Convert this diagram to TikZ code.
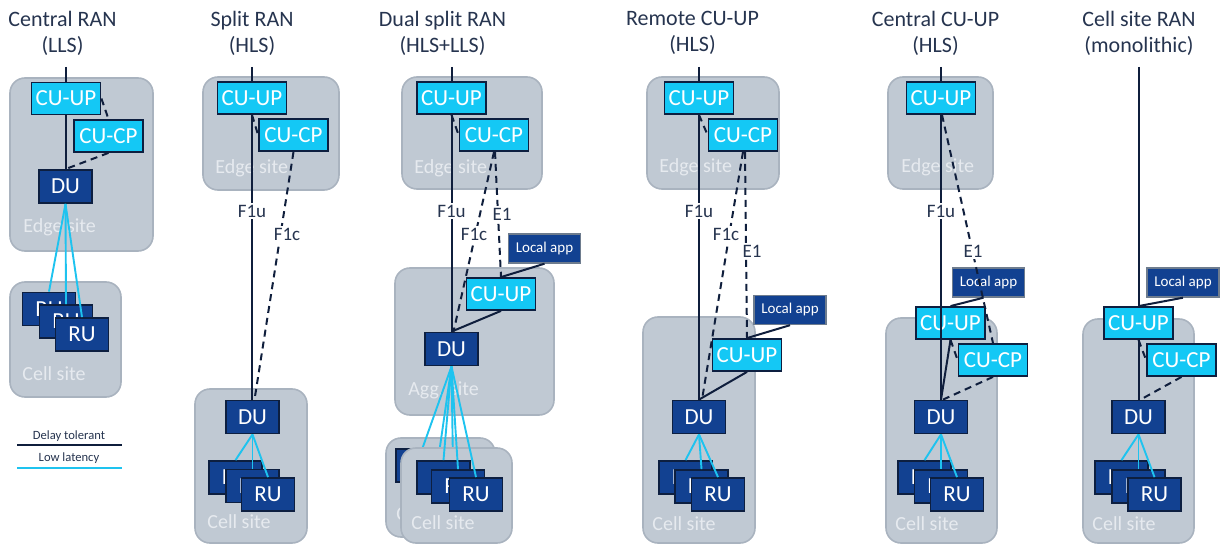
\documentclass[tikz,border=0pt]{standalone}
\usepackage{fontspec}
\setmainfont{Carlito}
\usetikzlibrary{calc}
\definecolor{sitef}{HTML}{C0C9D3}
\definecolor{siteb}{HTML}{A9B3BF}
\definecolor{cyanbox}{HTML}{14C8F5}
\definecolor{navybox}{HTML}{124191}
\definecolor{bord}{HTML}{0D1F40}
\definecolor{lnav}{HTML}{0F1E3C}
\definecolor{lcyan}{HTML}{1EC3EF}
\definecolor{labord}{HTML}{6E7C8E}
\definecolor{sitetxt}{HTML}{E6EAEF}
\definecolor{titletxt}{HTML}{26344F}
\begin{document}
\begin{tikzpicture}[x=0.5pt,y=-0.5pt,
  site/.style={draw=siteb, fill=sitef, rounded corners=7.5pt, line width=0.8pt, inner sep=0pt},
  cu/.style={draw=bord, fill=cyanbox, text=white, line width=0.9pt, inner sep=0pt,
    minimum width=34.5pt, minimum height=16pt, font=\fontsize{11.5}{12}\selectfont},
  du/.style={draw=bord, fill=navybox, text=white, line width=0.9pt, inner sep=0pt,
    minimum width=26.5pt, minimum height=16.5pt, font=\fontsize{11.5}{12}\selectfont},
  la/.style={draw=labord, fill=navybox, text=white, line width=0.7pt, inner sep=0pt,
    minimum width=36pt, minimum height=14.5pt, font=\fontsize{7.5}{8}\selectfont},
  sitelbl/.style={anchor=west, text=sitetxt, inner sep=0pt, font=\fontsize{10}{11}\selectfont},
  ttl/.style={align=center, text=titletxt, inner sep=0pt, font=\fontsize{11}{13}\selectfont},
  ifl/.style={fill=white, text=titletxt, inner sep=1pt, font=\fontsize{9.5}{10}\selectfont},
  solidln/.style={draw=lnav, line width=1pt},
  dashln/.style={draw=lnav, line width=1pt, dash pattern=on 3.5pt off 2.5pt},
  cyanln/.style={draw=lcyan, line width=0.95pt},
  leglbl/.style={text=titletxt, inner sep=0pt, font=\fontsize{6.3}{7}\selectfont}
]
\useasboundingbox (0,0) rectangle (1220,545);

% ---------------- Titles
\node[ttl] (ti1) at (62.5,33) {Central RAN\\(LLS)};
\node[ttl] (ti2) at (252,33) {Split RAN\\(HLS)};
\node[ttl] (ti3) at (442.5,33) {Dual split RAN\\(HLS+LLS)};
\node[ttl] (ti4) at (692.5,33) {Remote CU-UP\\(HLS)};
\node[ttl] (ti5) at (935.5,33) {Central CU-UP\\(HLS)};
\node[ttl] (ti6) at (1139,33) {Cell site RAN\\(monolithic)};

% ---------------- Column 1
\node[site, minimum width=71.5pt, minimum height=86.5pt] (edge1) at (81.5,164.5) {};
\node[sitelbl] (edge1l) at (23,227) {Edge site};
\node[site, minimum width=55.5pt, minimum height=57.5pt] (cell1) at (65.5,339.5) {};
\node[sitelbl] (cell1l) at (22,374) {Cell site};
\node[cu] (cuup1) at (66,98.5) {CU-UP};
\node[cu] (cucp1) at (108.5,136) {CU-CP};
\node[du] (du1) at (65.5,186.5) {DU};
\node[du] (ru1a) at (49,309) {RU};
\node[du] (ru1b) at (66,321.5) {RU};
\node[du] (ru1c) at (82,334.5) {RU};
\coordinate (t1) at (66,67);
\draw[solidln] (t1) -- (cuup1.north);
\draw[solidln] (cuup1.south) -- (cuup1.south |- du1.north);
\draw[dashln] (cuup1.east) -- (cucp1.north);
\draw[dashln] (cucp1.south) -- (du1.north);
\draw[cyanln] (du1.south) -- (ru1a.north);
\draw[cyanln] (du1.south) -- (ru1b.north);
\draw[cyanln] (du1.south) -- (ru1c.north);

% legend
\node[leglbl] (lg1) at (69,436) {Delay tolerant};
\node[leglbl] (lg2) at (69,458) {Low latency};
\coordinate (lg1a) at (17,445); \coordinate (lg1b) at (122,445);
\coordinate (lg2a) at (17,468); \coordinate (lg2b) at (122,468);
\draw[solidln, line width=1.1pt] (lg1a) -- (lg1b);
\draw[cyanln, line width=1.1pt] (lg2a) -- (lg2b);

% ---------------- Column 2
\node[site, minimum width=68pt, minimum height=56.5pt] (edge2) at (271,133.5) {};
\node[sitelbl] (edge2l) at (215,168) {Edge site};
\node[site, minimum width=56pt, minimum height=77pt] (cell2) at (251,466) {};
\node[sitelbl] (cell2l) at (207,522) {Cell site};
\node[cu] (cuup2) at (252,98) {CU-UP};
\node[cu] (cucp2) at (293.5,135) {CU-CP};
\node[du] (du2) at (252.5,417) {DU};
\node[du] (ru2a) at (235.5,477.5) {RU};
\node[du] (ru2b) at (252.5,486) {RU};
\node[du] (ru2c) at (268,494.5) {RU};
\coordinate (t2) at (252,67);
\draw[solidln] (t2) -- (cuup2.north);
\draw[solidln] (cuup2.south) -- (cuup2.south |- du2.north);
\draw[dashln] (cuup2.south) -- (cucp2.west);
\draw[dashln] (cucp2.south) -- ([xshift=1pt]du2.north);
\node[ifl] (f1u2) at (252,211) {F1u};
\node[ifl] (f1c2) at (287,234) {F1c};
\draw[cyanln] (du2.south) -- (ru2a.north);
\draw[cyanln] (du2.south) -- (ru2b.north);
\draw[cyanln] (du2.south) -- (ru2c.north);

% ---------------- Column 3
\node[site, minimum width=70pt, minimum height=56pt] (edge3) at (472,133) {};
\node[sitelbl] (edge3l) at (414,168) {Edge site};
\node[site, minimum width=79.5pt, minimum height=73.5pt] (agg3) at (474.5,341.5) {};
\node[sitelbl] (agg3l) at (408,390) {Agg. site};
\node[cu] (cuup3) at (451.5,98) {CU-UP};
\node[cu] (cucp3) at (494,135) {CU-CP};
\node[cu] (cuup3b) at (501,294) {CU-UP};
\node[la] (la3) at (544.5,248.5) {Local app};
\node[du] (du3) at (451.5,349) {DU};
\coordinate (t3) at (451.5,67);
\draw[solidln] (t3) -- (cuup3.north);
\draw[solidln] (cuup3.south) -- (cuup3.south |- du3.north);
\draw[dashln] (cuup3.south) -- (cucp3.west);
\draw[dashln] (cucp3.south) -- ([xshift=1pt]du3.north);
\draw[dashln] ([xshift=0.5pt]cucp3.south) -- (cuup3b.north);
\draw[solidln] (la3.south) -- (cuup3b.north);
\draw[solidln] (cuup3b.south) -- (du3.north);
\node[ifl] (f1u3) at (451.5,211) {F1u};
\node[ifl] (f1c3) at (474,234) {F1c};
\node[ifl] (e13) at (502,214) {E1};
% back cell site
\node[site, minimum width=54.5pt, minimum height=49.5pt] (cell3b) at (440.5,487.5) {};
\node[sitelbl] (cell3bl) at (396,514) {Cell site};
\node[du] (ru3d) at (422.5,465.5) {RU};
\node[du] (ru3e) at (438.5,474.5) {RU};
\node[du] (ru3f) at (453,482.5) {RU};
\draw[cyanln] (du3.south) -- (ru3d.north);
\draw[cyanln] (du3.south) -- (ru3e.north);
\draw[cyanln] (du3.south) -- (ru3f.north);
% front cell site
\node[site, minimum width=55.5pt, minimum height=47.5pt] (cell3) at (456.5,495.5) {};
\node[sitelbl] (cell3l) at (411,523) {Cell site};
\node[du] (ru3a) at (443.5,477.5) {RU};
\node[du] (ru3b) at (458,486.5) {RU};
\node[du] (ru3c) at (476,494.5) {RU};
\draw[cyanln] (du3.south) -- (ru3a.north);
\draw[cyanln] (du3.south) -- (ru3b.north);
\draw[cyanln] (du3.south) -- (ru3c.north);

% ---------------- Column 4
\node[site, minimum width=66pt, minimum height=56pt] (edge4) at (713,133) {};
\node[sitelbl] (edge4l) at (659,167) {Edge site};
\node[site, minimum width=56pt, minimum height=113pt] (cell4) at (699,430) {};
\node[sitelbl] (cell4l) at (652,524) {Cell site};
\node[cu] (cuup4) at (699,98) {CU-UP};
\node[cu] (cucp4) at (743,135) {CU-CP};
\node[cu] (cuup4b) at (747,355) {CU-UP};
\node[la] (la4) at (790,310) {Local app};
\node[du] (du4) at (699,417) {DU};
\node[du] (ru4a) at (685.5,477.5) {RU};
\node[du] (ru4b) at (701.5,486.5) {RU};
\node[du] (ru4c) at (718,494.5) {RU};
\coordinate (t4) at (699,67);
\draw[solidln] (t4) -- (cuup4.north);
\draw[solidln] (cuup4.south) -- (cuup4.south |- du4.north);
\draw[dashln] (cuup4.south) -- (cucp4.west);
\draw[dashln] (cucp4.south) -- ([xshift=1.5pt]du4.north);
\draw[dashln] ([xshift=1pt]cucp4.south) -- (cuup4b.north);
\draw[solidln] (la4.south) -- (cuup4b.north);
\draw[solidln] (cuup4b.south) -- (du4.north);
\node[ifl] (f1u4) at (699,211) {F1u};
\node[ifl] (f1c4) at (726,234) {F1c};
\node[ifl] (e14) at (752,251) {E1};
\draw[cyanln] (du4.south) -- (ru4a.north);
\draw[cyanln] (du4.south) -- (ru4b.north);
\draw[cyanln] (du4.south) -- (ru4c.north);

% ---------------- Column 5
\node[site, minimum width=52.5pt, minimum height=56pt] (edge5) at (940.5,133) {};
\node[sitelbl] (edge5l) at (901,167) {Edge site};
\node[site, minimum width=55.5pt, minimum height=112.5pt] (cell5) at (941.5,430.5) {};
\node[sitelbl] (cell5l) at (895,524) {Cell site};
\node[cu] (cuup5) at (941,98) {CU-UP};
\node[la] (la5) at (988.5,282.5) {Local app};
\node[cu] (cuup5b) at (950.5,323) {CU-UP};
\node[cu] (cucp5b) at (993,360) {CU-CP};
\node[du] (du5) at (941,417) {DU};
\node[du] (ru5a) at (924.5,477.5) {RU};
\node[du] (ru5b) at (941,486.5) {RU};
\node[du] (ru5c) at (957,494.5) {RU};
\coordinate (t5) at (941,67);
\draw[solidln] (t5) -- (cuup5.north);
\draw[solidln] (cuup5.south) -- (cuup5.south |- du5.north);
\draw[dashln] ([xshift=0.5pt]cuup5.south) -- (cucp5b.north);
\draw[solidln] ([xshift=-2.5pt]la5.south) -- (cuup5b.north);
\draw[solidln] (cuup5b.south) -- (du5.north);
\draw[dashln] (cuup5b.south) -- (cucp5b.west);
\draw[dashln] (cucp5b.south) -- ([xshift=1pt]du5.north);
\node[ifl] (f1u5) at (941,211) {F1u};
\node[ifl] (e15) at (973,251) {E1};
\draw[cyanln] (du5.south) -- (ru5a.north);
\draw[cyanln] (du5.south) -- (ru5b.north);
\draw[cyanln] (du5.south) -- (ru5c.north);

% ---------------- Column 6
\node[site, minimum width=55.5pt, minimum height=112pt] (cell6) at (1138.5,431) {};
\node[sitelbl] (cell6l) at (1092,524) {Cell site};
\node[la] (la6) at (1183,282.5) {Local app};
\node[cu] (cuup6) at (1138.5,323) {CU-UP};
\node[cu] (cucp6) at (1181.5,360) {CU-CP};
\node[du] (du6) at (1138.5,417) {DU};
\node[du] (ru6a) at (1121.5,477.5) {RU};
\node[du] (ru6b) at (1138.5,486.5) {RU};
\node[du] (ru6c) at (1154.5,494.5) {RU};
\coordinate (t6) at (1138.5,67);
\draw[solidln] (t6) -- (cuup6.north);
\draw[solidln] (cuup6.north) -- (la6.south);
\draw[solidln] (cuup6.south) -- (du6.north);
\draw[dashln] (cuup6.south) -- (cucp6.west);
\draw[dashln] (cucp6.south) -- ([xshift=1pt]du6.north);
\draw[cyanln] (du6.south) -- (ru6a.north);
\draw[cyanln] (du6.south) -- (ru6b.north);
\draw[cyanln] (du6.south) -- (ru6c.north);
\end{tikzpicture}
\end{document}
